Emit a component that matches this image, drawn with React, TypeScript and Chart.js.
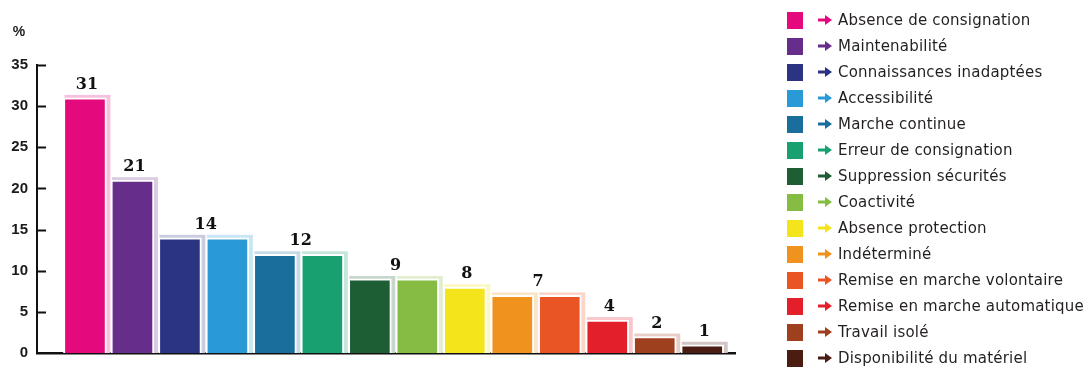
import React, { useEffect, useRef } from "react";
import { Chart, registerables } from "chart.js";

Chart.register(...registerables);

const categories = [
  "Absence de consignation",
  "Maintenabilité",
  "Connaissances inadaptées",
  "Accessibilité",
  "Marche continue",
  "Erreur de consignation",
  "Suppression sécurités",
  "Coactivité",
  "Absence protection",
  "Indéterminé",
  "Remise en marche volontaire",
  "Remise en marche automatique",
  "Travail isolé",
  "Disponibilité du matériel",
];
const values = [31, 21, 14, 14, 12, 12, 9, 9, 8, 7, 7, 4, 2, 1];
const colors = [
  "#E4097D",
  "#662D8A",
  "#2B3483",
  "#2A9AD6",
  "#1A6E9C",
  "#18A070",
  "#1D5E35",
  "#86BC43",
  "#F4E41C",
  "#EF921E",
  "#E95524",
  "#E21F2B",
  "#9E401E",
  "#4A1C12",
];
const yTickStep = 5;
const yMax = 35;
const yUnit = "%";

function tint(hex: string, k: number) {
  const n = parseInt(hex.slice(1), 16);
  const r = (n >> 16) & 255, g = (n >> 8) & 255, b = n & 255;
  const m = (c: number) => Math.round(c + (255 - c) * k);
  return `rgb(${m(r)},${m(g)},${m(b)})`;
}

const glowPlugin = {
  id: "glow",
  beforeDatasetsDraw(chart: any) {
    const ctx = chart.ctx;
    const meta = chart.getDatasetMeta(0);
    ctx.save();
    meta.data.forEach((el: any, i: number) => {
      const w = el.width;
      ctx.fillStyle = tint(colors[i], 0.75);
      ctx.fillRect(el.x - w / 2 + 1, el.y - 3, w + 3, el.base - el.y + 3);
    });
    ctx.restore();
  },
};

const labelPlugin = {
  id: "valueLabels",
  afterDatasetsDraw(chart: any) {
    const ctx = chart.ctx;
    const meta = chart.getDatasetMeta(0);
    ctx.save();
    ctx.font = 'bold 16px "DejaVu Serif"';
    ctx.fillStyle = "#111";
    ctx.textAlign = "center";
    ctx.textBaseline = "alphabetic";
    let i = 0;
    while (i < values.length) {
      let j = i;
      while (j + 1 < values.length && values[j + 1] === values[i]) j++;
      const x = (meta.data[i].x + meta.data[j].x) / 2;
      const y = meta.data[i].y;
      ctx.fillText(String(values[i]), x + 2, y - 9);
      i = j + 1;
    }
    ctx.restore();
  },
};

const axisExtrasPlugin = {
  id: "axisExtras",
  afterDraw(chart: any) {
    const ctx = chart.ctx;
    const ys = chart.scales.y;
    const left = chart.chartArea.left;
    ctx.save();
    ctx.strokeStyle = "#111";
    ctx.lineWidth = 2;
    ys.ticks.forEach((t: any) => {
      if (t.value === 0) return;
      const py = Math.round(ys.getPixelForValue(t.value)) + 0.5;
      ctx.beginPath();
      ctx.moveTo(left, py);
      ctx.lineTo(left + 9, py);
      ctx.stroke();
    });
    ctx.font = 'bold 14px "Liberation Sans"';
    ctx.fillStyle = "#1a1a1a";
    ctx.textAlign = "center";
    ctx.textBaseline = "middle";
    ctx.fillText(yUnit, 19, 32);
    ctx.restore();
  },
};

const legendPlugin = {
  id: "sideLegend",
  afterDraw(chart: any) {
    const ctx = chart.ctx;
    ctx.save();
    const x0 = 787;
    const y0 = 20;
    const step = 26;
    categories.forEach((label, i) => {
      const cy = y0 + step * i;
      ctx.fillStyle = colors[i];
      ctx.fillRect(x0, cy - 8, 16, 17);
      const ax = 818;
      ctx.strokeStyle = colors[i];
      ctx.fillStyle = colors[i];
      ctx.lineWidth = 3;
      ctx.beginPath();
      ctx.moveTo(ax, cy);
      ctx.lineTo(ax + 9, cy);
      ctx.stroke();
      ctx.beginPath();
      ctx.moveTo(ax + 7, cy - 5);
      ctx.lineTo(ax + 14, cy);
      ctx.lineTo(ax + 7, cy + 5);
      ctx.closePath();
      ctx.fill();
      ctx.font = '15px "DejaVu Sans"';
      (ctx as any).letterSpacing = "0.2px";
      ctx.fillStyle = "#231f20";
      ctx.textAlign = "left";
      ctx.textBaseline = "middle";
      ctx.fillText(label, 838, cy + 1);
      (ctx as any).letterSpacing = "0px";
    });
    ctx.restore();
  },
};

export default function App() {
  const ref = useRef<HTMLCanvasElement>(null);
  useEffect(() => {
    if (!ref.current) return;
    const chart = new Chart(ref.current, {
      type: "bar",
      data: {
        labels: categories,
        datasets: [
          {
            data: values.map((v, i) => ({ x: i, y: v })),
            backgroundColor: colors,
            borderColor: "#ffffff",
            borderWidth: 2,
            barThickness: 43,
          } as any,
        ],
      },
      options: {
        animation: false,
        responsive: true,
        maintainAspectRatio: false,
        layout: { padding: { top: 65, right: 350, bottom: 0, left: 0 } },
        plugins: {
          legend: { display: false },
          tooltip: { enabled: false },
        },
        scales: {
          x: {
            type: "linear",
            offset: false,
            min: -1.01,
            max: 13.69,
            ticks: { display: false },
            grid: { display: false, drawTicks: false, offset: false },
            border: { display: true, color: "#111", width: 2.5 },
            afterFit: (s: any) => {
              s.height = 5;
            },
          },
          y: {
            min: 0,
            max: yMax,
            ticks: {
              stepSize: yTickStep,
              padding: 9,
              color: "#1a1a1a",
              font: { family: '"Liberation Sans"', size: 15, weight: "bold" },
            },
            grid: { display: false, drawTicks: false },
            border: { display: true, color: "#111", width: 2 },
            afterFit: (s: any) => {
              s.width = 37;
            },
          },
        },
      } as any,
      plugins: [glowPlugin, labelPlugin, axisExtrasPlugin, legendPlugin],
    });
    return () => chart.destroy();
  }, []);
  return (
    <div style={{ position: "fixed", left: 0, top: 0, width: 1085, height: 371, background: "#fff" }}>
      <canvas ref={ref} />
    </div>
  );
}
